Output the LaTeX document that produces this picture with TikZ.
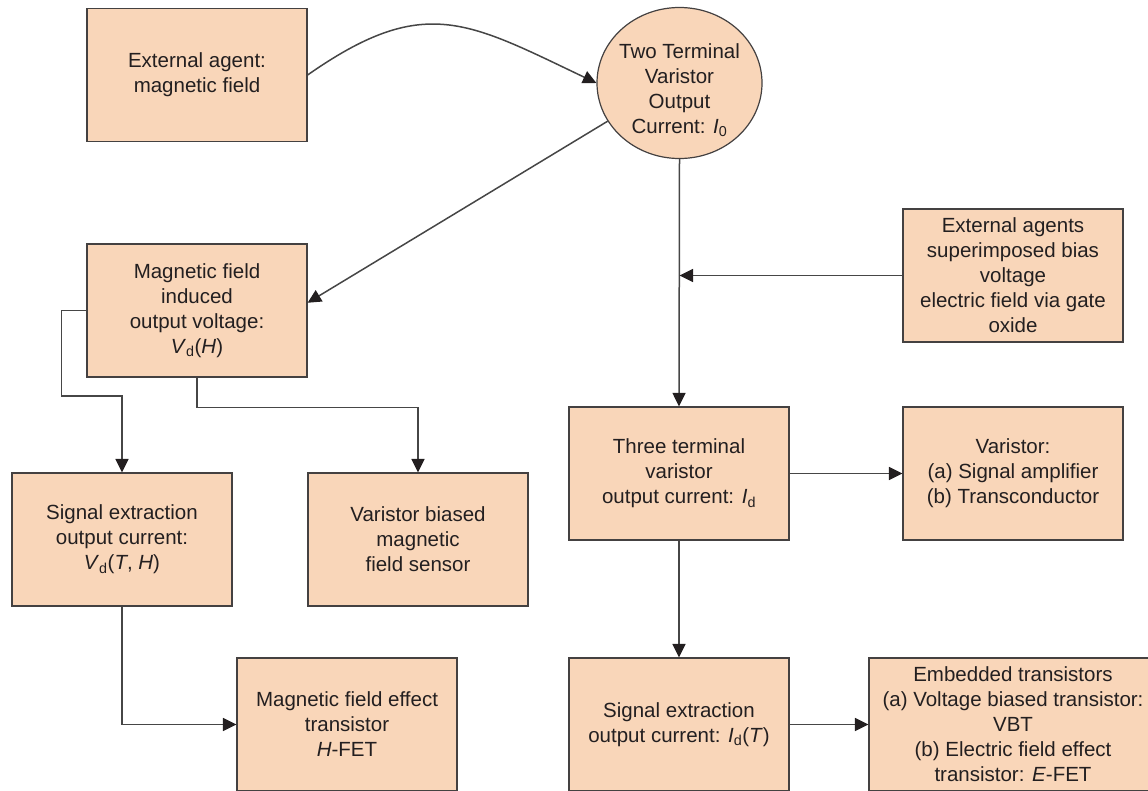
\documentclass[tikz,border=0pt]{standalone}
\usepackage{fontspec}
\setmainfont{Liberation Sans}
\usepackage{tikz}
\usetikzlibrary{arrows.meta,shapes.geometric}
\definecolor{peach}{RGB}{249,214,185}
\definecolor{ink}{RGB}{35,31,32}
\definecolor{wire}{RGB}{70,70,70}

\begin{document}
\begin{tikzpicture}[x=1pt,y=-1pt]
\tikzstyle{every node}+=[inner sep=0pt,text=ink,align=center,font=\fontsize{20.5}{25}\selectfont]
\tikzstyle{box}=[rectangle,draw=ink!85,line width=1.2pt,fill=peach,minimum width=220pt,minimum height=133pt]
\tikzstyle{link}=[draw=wire,line width=1.5pt,-{Triangle[length=13.5pt,width=13pt,color=ink]}]

\useasboundingbox (0,0) rectangle (1148,790);
\clip (0,0) rectangle (1148,790);

% top row
\node [box] (ext) at (197,75) {External agent:\\magnetic field};
\node [ellipse,draw=ink!85,line width=1.2pt,fill=peach,minimum width=165pt,minimum height=151pt]
  (circ) at (679.5,83) {};
\node (circtext) at (679.5,90) {Two Terminal\\Varistor\\Output\\Current: \textit{I}\textsubscript{0}};

% left branch
\node [box] (mag) at (197,310.5) {Magnetic field\\induced\\output voltage:\\\textit{V}\textsubscript{d}(\textit{H})};
\node [box] (sigvh) at (122,539.5) {Signal extraction\\output current:\\\textit{V}\textsubscript{d}(\textit{T}, \textit{H})};
\node [box] (sensor) at (418,539.5) {Varistor biased\\magnetic\\field sensor};
\node [box] (hfet) at (347,724.5) {Magnetic field effect\\transistor\\\textit{H}-FET};

% right branch
\node [box] (bias) at (1013,275.5) {External agents\\superimposed bias\\voltage\\electric field via gate\\oxide};
\node [box] (three) at (679,473.5) {Three terminal\\varistor\\output current: \textit{I}\textsubscript{d}};
\node [box] (amp) at (1013,473.5) {Varistor:\\(a) Signal amplifier\\(b) Transconductor};
\node [box] (sigid) at (679,724.5) {Signal extraction\\output current: \textit{I}\textsubscript{d}(\textit{T})};
\node [box,minimum width=288pt] (emb) at (1013,724.5) {Embedded transistors\\(a) Voltage biased transistor:\\VBT\\(b) Electric field effect\\transistor: \textit{E}-FET};

% connectors
\draw [link] (ext.east) .. controls (424,-6.5) and (467,21.4) .. (circ.west);
\draw [link] (circ.208) -- (mag.4);
\draw [link] (circ.south) -- (three.north);
\draw [link] (bias.west) -- (bias.west -| circ.south);
\draw [link] (mag.west) -- ++(-25,0) -- ++(0,85.5) -| (sigvh.north);
\draw [link] (mag.south) -- ++(0,30) -| (sensor.north);
\draw [link] (sigvh.south) |- (hfet.west);
\draw [link] (three.east) -- (amp.west);
\draw [link] (three.south) -- (sigid.north);
\draw [link] (sigid.east) -- (emb.west);
\end{tikzpicture}
\end{document}
